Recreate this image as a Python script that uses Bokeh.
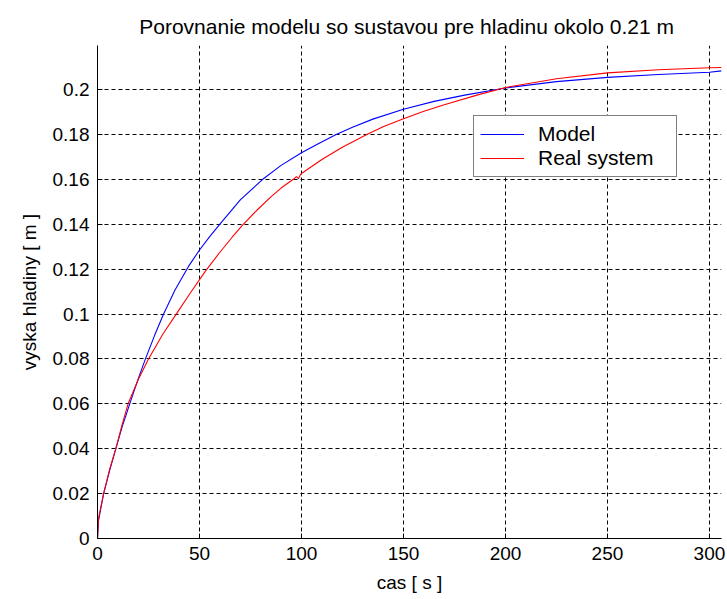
from bokeh.plotting import figure
from bokeh.models import Range1d, FixedTicker, Legend, LegendItem
from bokeh.embed import file_html
from bokeh.resources import INLINE

# ---- data ----
t_model = [0, 0.5, 3, 6, 9, 12, 16, 20, 23.5, 28, 32.4, 38, 44.6, 50, 55, 60, 70, 81,
           90, 100, 108, 117, 125, 135, 150, 165, 180, 200, 225, 250, 275, 300, 305.9]
y_model = [0, 0.008, 0.02, 0.0305, 0.04, 0.0495, 0.0605, 0.0712, 0.08, 0.0905, 0.10,
           0.1107, 0.1212, 0.1285, 0.1345, 0.14, 0.1508, 0.16, 0.1662, 0.1718, 0.1757,
           0.18, 0.1832, 0.1868, 0.1912, 0.1947, 0.1975, 0.2007, 0.2035, 0.2054, 0.2067,
           0.2077, 0.2083]

t_real = [0, 0.5, 3, 6, 9, 12, 15, 20, 25, 32, 39, 46, 53, 60, 66, 71, 78, 85, 90, 96,
          97.5, 98.5, 99.5, 100, 110, 120, 132, 140, 150, 160, 170, 186, 200, 225, 250,
          275, 300, 305.9]
y_real = [0, 0.009, 0.02, 0.031, 0.04, 0.0505, 0.06, 0.0708, 0.08, 0.091, 0.1005, 0.11,
          0.1192, 0.1275, 0.1342, 0.1395, 0.1461, 0.1522, 0.1561, 0.16, 0.1612, 0.1603,
          0.1621, 0.1626, 0.1688, 0.1743, 0.18, 0.1834, 0.187, 0.1903, 0.1932, 0.1975,
          0.2009, 0.2048, 0.2074, 0.2088, 0.2097, 0.2098]

x_ticks = [0, 50, 100, 150, 200, 250, 300]
x_tick_labels = ["0", "50", "100", "150", "200", "250", "300"]
y_ticks = [0, 0.02, 0.04, 0.06, 0.08, 0.1, 0.12, 0.14, 0.16, 0.18, 0.2]
y_tick_labels = ["0", "0.02", "0.04", "0.06", "0.08", "0.1", "0.12", "0.14", "0.16", "0.18", "0.2"]

title_text = "Porovnanie modelu so sustavou pre hladinu okolo  0.21 m"
x_label = "cas [ s ]"
y_label = "vyska hladiny [ m ]"
series_names = ["Model", "Real system"]

FONT = "Liberation Sans"

p = figure(width=727, height=599, output_backend="svg", toolbar_location=None,
           x_range=Range1d(0, 305.9), y_range=Range1d(0, 0.2196),
           min_border_left=97, min_border_right=6, min_border_top=45, min_border_bottom=61,
           title=title_text)

p.title.text_font = FONT
p.title.text_font_size = "21px"
p.title.text_font_style = "normal"
p.title.align = "center"
p.title.text_color = "#000000"
p.title.standoff = 16

p.outline_line_color = None
p.background_fill_color = "white"
p.border_fill_color = "white"

for ax in (p.xaxis[0], p.yaxis[0]):
    ax.axis_line_color = "#000000"
    ax.axis_line_width = 1
    ax.major_tick_in = 5
    ax.major_tick_out = 0
    ax.minor_tick_line_color = None
    ax.major_tick_line_color = "#000000"
    ax.major_label_text_font = FONT
    ax.major_label_text_font_size = "19px"
    ax.major_label_text_color = "#000000"
    ax.axis_label_text_font = FONT
    ax.axis_label_text_font_size = "19px"
    ax.axis_label_text_font_style = "normal"
    ax.axis_label_text_color = "#000000"

p.xaxis.ticker = FixedTicker(ticks=x_ticks)
p.yaxis.ticker = FixedTicker(ticks=y_ticks)
p.xaxis.major_label_overrides = dict(zip(x_ticks, x_tick_labels))
p.yaxis.major_label_overrides = dict(zip(y_ticks, y_tick_labels))
p.xaxis.axis_label = x_label
p.yaxis.axis_label = y_label
p.xaxis.major_label_standoff = 8
p.yaxis.major_label_standoff = 8
p.xaxis.axis_label_standoff = 9
p.yaxis.axis_label_standoff = 10

for g in (p.xgrid[0], p.ygrid[0]):
    g.grid_line_color = "#000000"
    g.grid_line_dash = "4 3"
    g.grid_line_width = 1

r_model = p.line(t_model, y_model, line_color="#0000ff", line_width=1.1)
r_real = p.line(t_real, y_real, line_color="#ff0000", line_width=1.1)

legend = Legend(items=[LegendItem(label=series_names[0], renderers=[r_model]),
                       LegendItem(label=series_names[1], renderers=[r_real])],
                location=(376, 361))
legend.label_text_font = FONT
legend.label_text_font_size = "21px"
legend.label_text_color = "#000000"
legend.border_line_color = "#000000"
legend.border_line_width = 1
legend.background_fill_color = "white"
legend.background_fill_alpha = 1.0
legend.padding = 6
legend.spacing = 0
legend.margin = 0
legend.glyph_width = 44
legend.label_standoff = 14
legend.label_height = 22
legend.label_width = 132
p.add_layout(legend, "center")

open("out.html", "w").write(file_html(p, INLINE))
